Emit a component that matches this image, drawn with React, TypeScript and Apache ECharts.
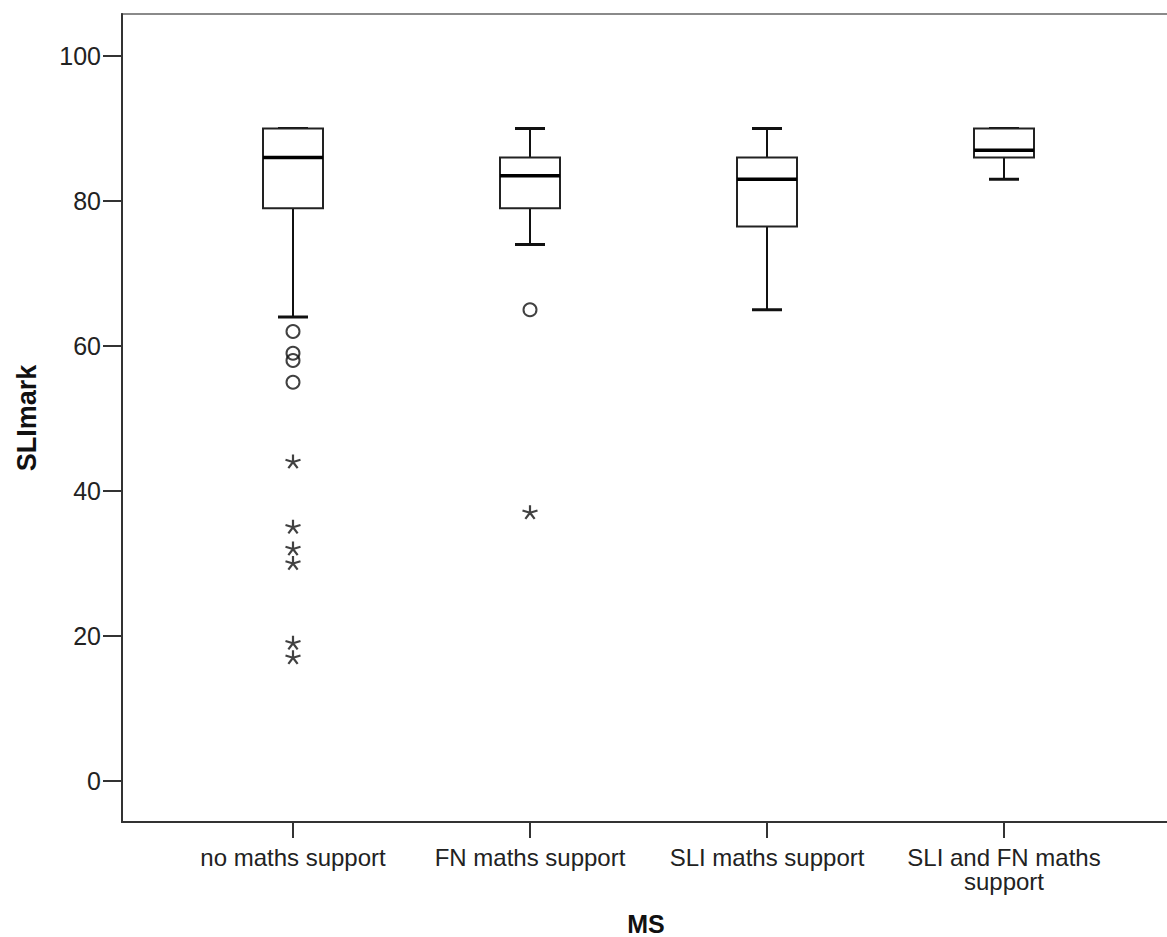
import React, { useEffect, useRef } from "react";
import * as echarts from "echarts";

const categories = [
  "no maths support",
  "FN maths support",
  "SLI maths support",
  "SLI and FN maths\nsupport",
];
// [lower whisker, Q1, median, Q3, upper whisker]
const boxStats = [
  [64, 79, 86, 90, 90],
  [74, 79, 83.5, 86, 90],
  [65, 76.5, 83, 86, 90],
  [83, 86, 87, 90, 90],
];
const circleOutliers = [
  [1, 62],
  [1, 59],
  [1, 58],
  [1, 55],
  [2, 65],
];
const starOutliers = [
  [1, 44],
  [1, 35],
  [1, 32],
  [1, 30],
  [1, 19],
  [1, 17],
  [2, 37],
];
const yTicks = [0, 20, 40, 60, 80, 100];
const xTicks = [1, 2, 3, 4];

const STAR =
  "path://M0,-10L0,0M9.51,-3.09L0,0M5.88,8.09L0,0M-5.88,8.09L0,0M-9.51,-3.09L0,0M0,10L0,10";

export default function App() {
  const ref = useRef<HTMLDivElement>(null);
  useEffect(() => {
    if (!ref.current) return;
    const chart = echarts.init(ref.current, null, { renderer: "svg" });
    const font = "'Liberation Sans', Arial, sans-serif";
    const boxData = boxStats.map((s, i) => [i + 1, ...s]);
    chart.setOption({
      animation: false,
      backgroundColor: "#fff",
      grid: {
        left: 122,
        top: 14,
        width: 1048,
        height: 808,
        outerBoundsMode: "none",
        containLabel: false,
        show: true,
        borderColor: "#8a8a8a",
        borderWidth: 2,
        backgroundColor: "#fff",
      },
      xAxis: {
        type: "value",
        min: 1 - 171 / 237,
        max: 1 + 877 / 237,
        splitLine: { show: false },
        axisLine: { show: true, onZero: false, lineStyle: { color: "#333", width: 2 } },
        axisTick: {
          show: true,
          customValues: xTicks,
          length: 16,
          lineStyle: { color: "#333", width: 2 },
        },
        axisLabel: {
          customValues: xTicks,
          formatter: (v: number) => categories[Math.round(v) - 1] ?? "",
          fontSize: 24,
          lineHeight: 24,
          color: "#222",
          fontFamily: font,
          margin: 23,
          align: "center",
        },
        name: "MS",
        nameLocation: "middle",
        nameGap: 89,
        nameTextStyle: { fontSize: 25, fontWeight: "bold", color: "#111", fontFamily: font },
      },
      yAxis: {
        type: "value",
        min: -41 / 7.25,
        max: 767 / 7.25,
        splitLine: { show: false },
        axisLine: { show: true, onZero: false, lineStyle: { color: "#333", width: 2 } },
        axisTick: {
          show: true,
          customValues: yTicks,
          length: 19,
          lineStyle: { color: "#333", width: 2 },
        },
        axisLabel: {
          customValues: yTicks,
          fontSize: 25,
          color: "#222",
          fontFamily: font,
          margin: 21,
        },
        name: "SLImark",
        nameLocation: "middle",
        nameGap: 82,
        nameTextStyle: { fontSize: 27, fontWeight: "bold", color: "#111", fontFamily: font },
      },
      series: [
        {
          type: "custom",
          data: boxData,
          renderItem: (params: any, api: any) => {
            const x = api.value(0);
            const lo = api.coord([x, api.value(1)]);
            const q1 = api.coord([x, api.value(2)]);
            const med = api.coord([x, api.value(3)]);
            const q3 = api.coord([x, api.value(4)]);
            const hi = api.coord([x, api.value(5)]);
            const cx = lo[0];
            const hw = 30;
            const cw = 15;
            const stroke = { stroke: "#111", lineWidth: 2 };
            return {
              type: "group",
              children: [
                { type: "line", shape: { x1: cx, y1: q1[1], x2: cx, y2: lo[1] }, style: stroke },
                { type: "line", shape: { x1: cx, y1: q3[1], x2: cx, y2: hi[1] }, style: stroke },
                { type: "line", shape: { x1: cx - cw, y1: lo[1], x2: cx + cw, y2: lo[1] }, style: { stroke: "#111", lineWidth: 3 } },
                { type: "line", shape: { x1: cx - cw, y1: hi[1], x2: cx + cw, y2: hi[1] }, style: { stroke: "#111", lineWidth: 3 } },
                {
                  type: "rect",
                  shape: { x: cx - hw, y: q3[1], width: hw * 2, height: q1[1] - q3[1] },
                  style: { fill: "#fff", stroke: "#222", lineWidth: 2 },
                },
                { type: "line", shape: { x1: cx - hw, y1: med[1], x2: cx + hw, y2: med[1] }, style: { stroke: "#000", lineWidth: 3.5 } },
              ],
            };
          },
          z: 3,
        },
        {
          type: "scatter",
          data: circleOutliers,
          symbol: "circle",
          symbolSize: 13,
          itemStyle: { color: "rgba(255,255,255,0)", borderColor: "#111", borderWidth: 2 },
          z: 4,
        },
        {
          type: "scatter",
          data: starOutliers,
          symbol: STAR,
          symbolSize: [15, 15],
          itemStyle: { color: "rgba(0,0,0,0)", borderColor: "#111", borderWidth: 2.2 },
          z: 4,
        },
      ],
    });
    return () => chart.dispose();
  }, []);
  return (
    <div
      ref={ref}
      style={{ position: "fixed", left: 0, top: 0, width: 1167, height: 937 }}
    />
  );
}
